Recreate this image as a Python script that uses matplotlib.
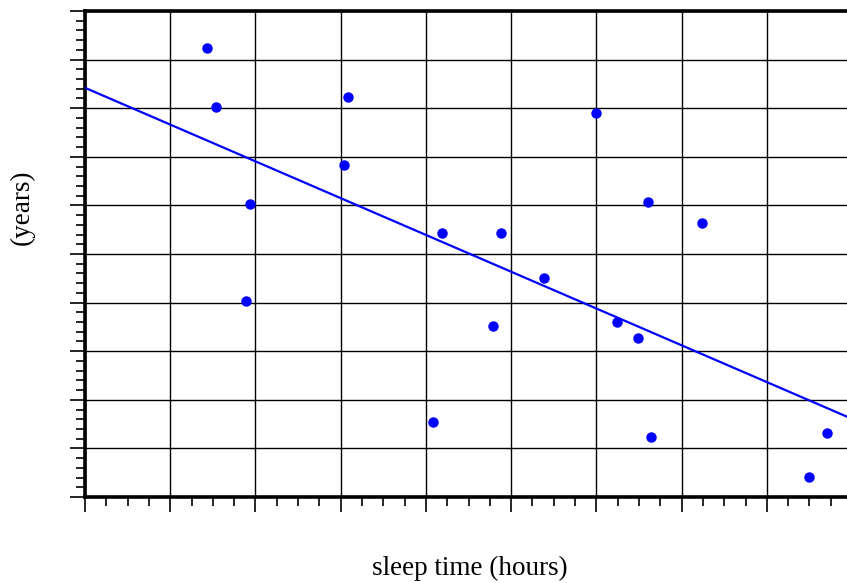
import numpy as np
import matplotlib.pyplot as plt
from matplotlib.ticker import MultipleLocator

sleep_hours = [1.43, 1.54, 1.94, 1.89, 3.09, 3.04, 4.19, 4.08, 4.88, 4.79,
               5.39, 6.00, 6.24, 6.49, 6.60, 6.64, 7.24, 8.50, 8.70]
age_years = [9.24, 8.02, 6.03, 4.03, 8.23, 6.83, 5.43, 1.54, 5.43, 3.52,
             4.51, 7.90, 3.60, 3.27, 6.07, 1.23, 5.64, 0.41, 1.32]

# trend line
line_intercept = 8.42
line_slope = -0.757

x_min, x_max = 0.0, 8.94
y_min, y_max = 0.0, 10.0

plt.rcParams['font.family'] = ['Liberation Serif', 'DejaVu Serif']

fig = plt.figure(figsize=(8.47, 5.83), dpi=100)
ax = fig.add_axes([85/847, 86/583, 1 - 85/847, 486/583])

xs = np.array([x_min, x_max])
ax.plot(xs, line_intercept + line_slope * xs, color='#0000ff', lw=1.6, zorder=3)
ax.plot(sleep_hours, age_years, 'o', color='#0000ff', markersize=6.5, zorder=4)

ax.set_xlim(x_min, x_max)
ax.set_ylim(y_min, y_max)
ax.xaxis.set_major_locator(MultipleLocator(1))
ax.xaxis.set_minor_locator(MultipleLocator(0.25))
ax.yaxis.set_major_locator(MultipleLocator(1))
ax.yaxis.set_minor_locator(MultipleLocator(0.2))
ax.grid(True, which='major', color='black', lw=1.0)
ax.set_axisbelow(True)

ax.tick_params(which='major', length=11, width=1.2, color='black',
               labelbottom=False, labelleft=False)
ax.tick_params(which='minor', length=6.5, width=1.2, color='black')

for side in ['left', 'bottom', 'top']:
    ax.spines[side].set_linewidth(2.6)
ax.spines['right'].set_visible(False)

fig.text(470/847, 1 - 568/583, 'sleep time (hours)', fontsize=19.5,
         ha='center', va='center')
fig.text(22/847, 1 - 207/583, '(years)', fontsize=19.5, rotation=90,
         ha='center', va='center')

fig.savefig('out.png', dpi=100)
